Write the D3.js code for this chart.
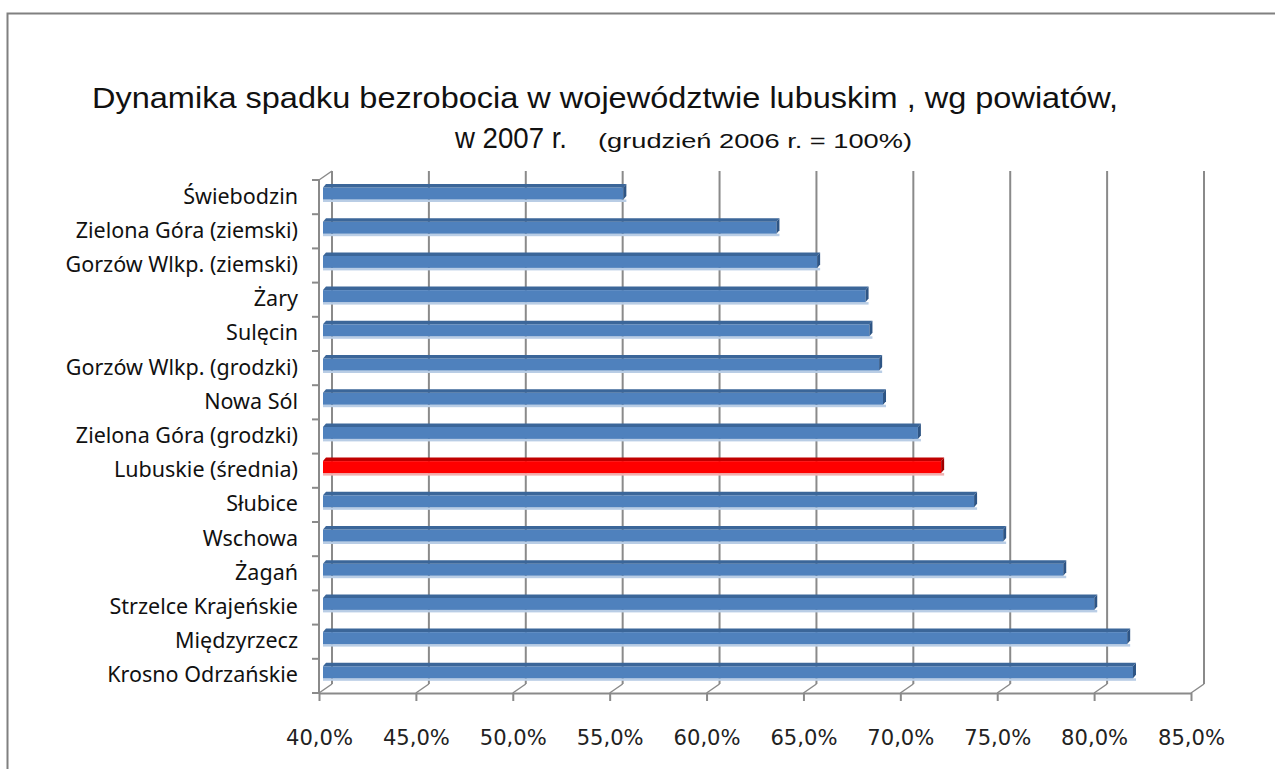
<!DOCTYPE html>
<html>
<head>
<meta charset="utf-8">
<script src="https://cdn.jsdelivr.net/npm/d3@7"></script>
<style>
  body { margin: 0; background: #fff; }
  svg { display: block; }
</style>
</head>
<body>
<div id="chart"></div>
<script>
// data
var categories = [
    "Świebodzin",
    "Zielona Góra (ziemski)",
    "Gorzów Wlkp. (ziemski)",
    "Żary",
    "Sulęcin",
    "Gorzów Wlkp. (grodzki)",
    "Nowa Sól",
    "Zielona Góra (grodzki)",
    "Lubuskie (średnia)",
    "Słubice",
    "Wschowa",
    "Żagań",
    "Strzelce Krajeńskie",
    "Międzyrzecz",
    "Krosno Odrzańskie"
];
var values = [55.5, 63.4, 65.5, 68.0, 68.2, 68.7, 68.9, 70.7, 71.9, 73.6, 75.1, 78.2, 79.8, 81.5, 81.8];
var highlight = "Lubuskie (średnia)";
var xTicks = [40, 45, 50, 55, 60, 65, 70, 75, 80, 85];

var titleLine1 = "Dynamika spadku bezrobocia w województwie lubuskim , wg powiatów,";
var titleLine2a = "w 2007 r.";
var titleLine2b = "(grudzień 2006 r. = 100%)";

var W = 1275, H = 769;
var depth = {dx: 13, dy: -9};      // back wall offset
var barDepth = {dx: 3, dy: -3.5};  // bar top face

var svg = d3.select("#chart").append("svg")
    .attr("width", W)
    .attr("height", H);

// outer frame
svg.append("rect")
    .attr("x", 7.5).attr("y", 13.5)
    .attr("width", W + 20).attr("height", H + 20)
    .attr("fill", "#fff")
    .attr("stroke", "#808080")
    .attr("stroke-width", 2);

// title
svg.append("text")
    .attr("x", 92).attr("y", 108)
    .attr("font-family", "Liberation Sans, Arial, sans-serif")
    .attr("font-size", 30)
    .attr("fill", "#111")
    .attr("textLength", 1026)
    .attr("lengthAdjust", "spacingAndGlyphs")
    .text(titleLine1);

svg.append("text")
    .attr("x", 455).attr("y", 148)
    .attr("font-family", "Liberation Sans, Arial, sans-serif")
    .attr("font-size", 30)
    .attr("fill", "#111")
    .attr("textLength", 112)
    .attr("lengthAdjust", "spacingAndGlyphs")
    .text(titleLine2a);

svg.append("text")
    .attr("x", 598).attr("y", 148)
    .attr("font-family", "Liberation Sans, Arial, sans-serif")
    .attr("font-size", 21)
    .attr("fill", "#111")
    .attr("textLength", 314)
    .attr("lengthAdjust", "spacingAndGlyphs")
    .text(titleLine2b);

// scales (front floor plane)
var x = d3.scaleLinear().domain([40, 85]).range([319, 1191]);
var y = d3.scaleBand().domain(categories).range([180, 693]).padding(0);

var plotTop = y.range()[0], plotBottom = y.range()[1];
var gridColor = "#8a8a8a";

// back wall gridlines
svg.append("g").selectAll("line")
    .data(xTicks)
    .join("line")
    .attr("x1", function (d) { return x(d) + depth.dx; })
    .attr("x2", function (d) { return x(d) + depth.dx; })
    .attr("y1", plotTop + depth.dy)
    .attr("y2", plotBottom + depth.dy)
    .attr("stroke", gridColor)
    .attr("stroke-width", 2);

// floor diagonals
svg.append("g").selectAll("line")
    .data(xTicks)
    .join("line")
    .attr("x1", function (d) { return x(d); })
    .attr("y1", plotBottom)
    .attr("x2", function (d) { return x(d) + depth.dx; })
    .attr("y2", plotBottom + depth.dy)
    .attr("stroke", gridColor)
    .attr("stroke-width", 1.5);

// left wall top diagonal
svg.append("line")
    .attr("x1", x(40)).attr("y1", plotTop)
    .attr("x2", x(40) + depth.dx).attr("y2", plotTop + depth.dy)
    .attr("stroke", gridColor)
    .attr("stroke-width", 1.5);

// bars
var fmtLocale = d3.formatLocale({decimal: ",", thousands: " ", grouping: [3], currency: ["", " zł"]});
var pct = function (v) { return fmtLocale.format(".1f")(v) + "%"; };

var bars = svg.append("g").selectAll("g")
    .data(categories.map(function (c, i) { return {cat: c, value: values[i]}; }))
    .join("g");

function colors(d) {
    return d.cat === highlight
        ? {front: "#ff0000", top: "#c00000", side: "#a00000", shadow: "#f0b0b0"}
        : {front: "#4f81bd", top: "#3b6699", side: "#2e5585", shadow: "#b9cde5"};
}

bars.each(function (d) {
    var g = d3.select(this);
    var c = colors(d);
    var x0 = x(40) + 4, x1 = x(d.value) + 4;
    var y0 = y(d.cat) + 7.5, y1 = y(d.cat) + 19.5;

    g.append("rect")
        .attr("x", x0).attr("y", y1)
        .attr("width", x1 - x0 + barDepth.dx).attr("height", 2.5)
        .attr("fill", c.shadow);

    g.append("rect")
        .attr("x", x0).attr("y", y0)
        .attr("width", x1 - x0).attr("height", y1 - y0)
        .attr("fill", c.front);

    g.append("path")
        .attr("d", "M" + x0 + "," + y0 +
            "L" + (x0 + barDepth.dx) + "," + (y0 + barDepth.dy) +
            "L" + (x1 + barDepth.dx) + "," + (y0 + barDepth.dy) +
            "L" + x1 + "," + y0 + "Z")
        .attr("fill", c.top);

    g.append("path")
        .attr("d", "M" + x1 + "," + y0 +
            "L" + (x1 + barDepth.dx) + "," + (y0 + barDepth.dy) +
            "L" + (x1 + barDepth.dx) + "," + (y1 + barDepth.dy) +
            "L" + x1 + "," + y1 + "Z")
        .attr("fill", c.side);
});

// x axis
var xAxis = d3.axisBottom(x)
    .tickValues(xTicks)
    .tickSize(8)
    .tickSizeOuter(0)
    .tickPadding(29)
    .tickFormat(pct);

var gx = svg.append("g")
    .attr("transform", "translate(0," + plotBottom + ")")
    .call(xAxis);
gx.select(".domain").attr("stroke", gridColor).attr("stroke-width", 2);
gx.selectAll(".tick line").attr("stroke", gridColor).attr("stroke-width", 2);
gx.selectAll(".tick text")
    .attr("font-family", "DejaVu Sans, Verdana, sans-serif")
    .attr("font-size", 21)
    .attr("fill", "#222")
    .attr("textLength", 67)
    .attr("lengthAdjust", "spacingAndGlyphs");

// y axis (labels only; boundary ticks drawn below)
var yAxis = d3.axisLeft(y).tickSize(0).tickPadding(21);
var gy = svg.append("g")
    .attr("transform", "translate(" + x(40) + ",0)")
    .call(yAxis);
gy.select(".domain").remove();
gy.selectAll(".tick text")
    .attr("font-family", "Noto Sans, Open Sans, sans-serif")
    .attr("font-size", 21.5)
    .attr("fill", "#111")
    .attr("dy", "0.3em");

svg.append("line")
    .attr("x1", x(40)).attr("x2", x(40))
    .attr("y1", plotTop).attr("y2", plotBottom)
    .attr("stroke", gridColor).attr("stroke-width", 2);

var bounds = categories.map(function (c) { return y(c); }).concat([plotBottom]);
svg.append("g").selectAll("line")
    .data(bounds)
    .join("line")
    .attr("x1", x(40) - 7).attr("x2", x(40))
    .attr("y1", function (d) { return d; })
    .attr("y2", function (d) { return d; })
    .attr("stroke", gridColor)
    .attr("stroke-width", 2);
</script>
</body>
</html>
